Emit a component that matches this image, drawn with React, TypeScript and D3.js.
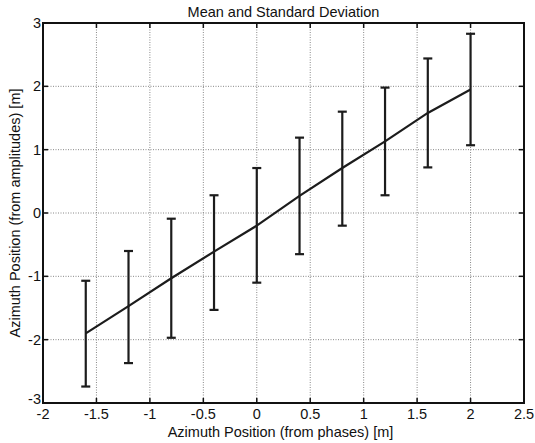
import React from "react";
import * as d3 from "d3";

// Azimuth positions where measurements were taken
const positions = [-1.6, -1.2, -0.8, -0.4, 0, 0.4, 0.8, 1.2, 1.6, 2.0];
// Mean estimated position and the ±1 std range
const means = [-1.9, -1.47, -1.03, -0.61, -0.2, 0.27, 0.71, 1.13, 1.58, 1.95];
const upper = [-1.07, -0.6, -0.09, 0.28, 0.71, 1.19, 1.6, 1.98, 2.44, 2.83];
const lower = [-2.74, -2.37, -1.97, -1.53, -1.1, -0.65, -0.2, 0.28, 0.72, 1.07];

const xTicks = [-2, -1.5, -1, -0.5, 0, 0.5, 1, 1.5, 2, 2.5];
const yTicks = [-3, -2, -1, 0, 1, 2, 3];

const W = 535;
const H = 443;
const M = { left: 43, right: 11, top: 23, bottom: 40 };
const FONT = "'Liberation Sans', Arial, Helvetica, sans-serif";

export default function App() {
  const x = d3.scaleLinear().domain([-2, 2.5]).range([M.left, W - M.right]);
  const y = d3.scaleLinear().domain([-3, 3]).range([H - M.bottom, M.top]);
  const x0 = x.range()[0];
  const x1 = x.range()[1];
  const y0 = y.range()[0];
  const y1 = y.range()[1];

  const line = d3
    .line<number>()
    .x((_, i) => x(positions[i]))
    .y((d) => y(d));

  const fmt = (v: number) => String(v);
  const ink = "#1c1c1c";
  const cap = 4.5;
  const tick = 5;
  const fs = 14.5;

  return (
    <svg
      width={W}
      height={H}
      style={{ position: "absolute", left: 0, top: 0, background: "#fff" }}
      fontFamily={FONT}
    >
      <rect x={0} y={0} width={W} height={H} fill="#fff" />
      {/* grid */}
      {xTicks.slice(1, -1).map((t) => (
        <line
          key={"gx" + t}
          x1={x(t)}
          x2={x(t)}
          y1={y0}
          y2={y1}
          stroke="#888"
          strokeWidth={1}
          strokeDasharray="1,1.5"
        />
      ))}
      {yTicks.slice(1, -1).map((t) => (
        <line
          key={"gy" + t}
          x1={x0}
          x2={x1}
          y1={y(t)}
          y2={y(t)}
          stroke="#888"
          strokeWidth={1}
          strokeDasharray="1,1.5"
        />
      ))}
      {/* mean line */}
      <path d={line(means) || ""} fill="none" stroke={ink} strokeWidth={2.2} />
      {/* error bars */}
      {positions.map((p, i) => (
        <g key={"e" + i} stroke={ink} strokeWidth={2.2}>
          <line x1={x(p)} x2={x(p)} y1={y(lower[i])} y2={y(upper[i])} />
          <line x1={x(p) - cap} x2={x(p) + cap} y1={y(upper[i])} y2={y(upper[i])} />
          <line x1={x(p) - cap} x2={x(p) + cap} y1={y(lower[i])} y2={y(lower[i])} />
        </g>
      ))}
      {/* axis box */}
      <rect
        x={x0}
        y={y1}
        width={x1 - x0}
        height={y0 - y1}
        fill="none"
        stroke="#111"
        strokeWidth={2}
      />
      {/* ticks */}
      {xTicks.map((t) => (
        <g key={"tx" + t} stroke="#111" strokeWidth={1.5}>
          <line x1={x(t)} x2={x(t)} y1={y0} y2={y0 - tick} />
          <line x1={x(t)} x2={x(t)} y1={y1} y2={y1 + tick} />
        </g>
      ))}
      {yTicks.map((t) => (
        <g key={"ty" + t} stroke="#111" strokeWidth={1.5}>
          <line x1={x0} x2={x0 + tick} y1={y(t)} y2={y(t)} />
          <line x1={x1} x2={x1 - tick} y1={y(t)} y2={y(t)} />
        </g>
      ))}
      {/* tick labels */}
      {xTicks.map((t) => (
        <text
          key={"lx" + t}
          x={x(t)}
          y={y0 + 15.5}
          fontSize={fs}
          textAnchor="middle"
          fill="#111"
        >
          {fmt(t)}
        </text>
      ))}
      {yTicks.map((t) => (
        <text
          key={"ly" + t}
          x={x0 - 2}
          y={y(t) + (t === -3 ? 1 : 5)}
          fontSize={fs}
          textAnchor="end"
          fill="#111"
        >
          {fmt(t)}
        </text>
      ))}
      {/* titles */}
      <text
        x={(x0 + x1) / 2}
        y={17}
        fontSize={fs}
        textAnchor="middle"
        fill="#111"
      >
        Mean and Standard Deviation
      </text>
      <text
        x={(x0 + x1) / 2 - 3}
        y={437}
        fontSize={fs}
        textAnchor="middle"
        fill="#111"
      >
        Azimuth Position (from phases) [m]
      </text>
      <text
        transform={`translate(20, ${(y0 + y1) / 2}) rotate(-90)`}
        fontSize={fs}
        textAnchor="middle"
        fill="#111"
      >
        Azimuth Position (from amplitudes) [m]
      </text>
    </svg>
  );
}
